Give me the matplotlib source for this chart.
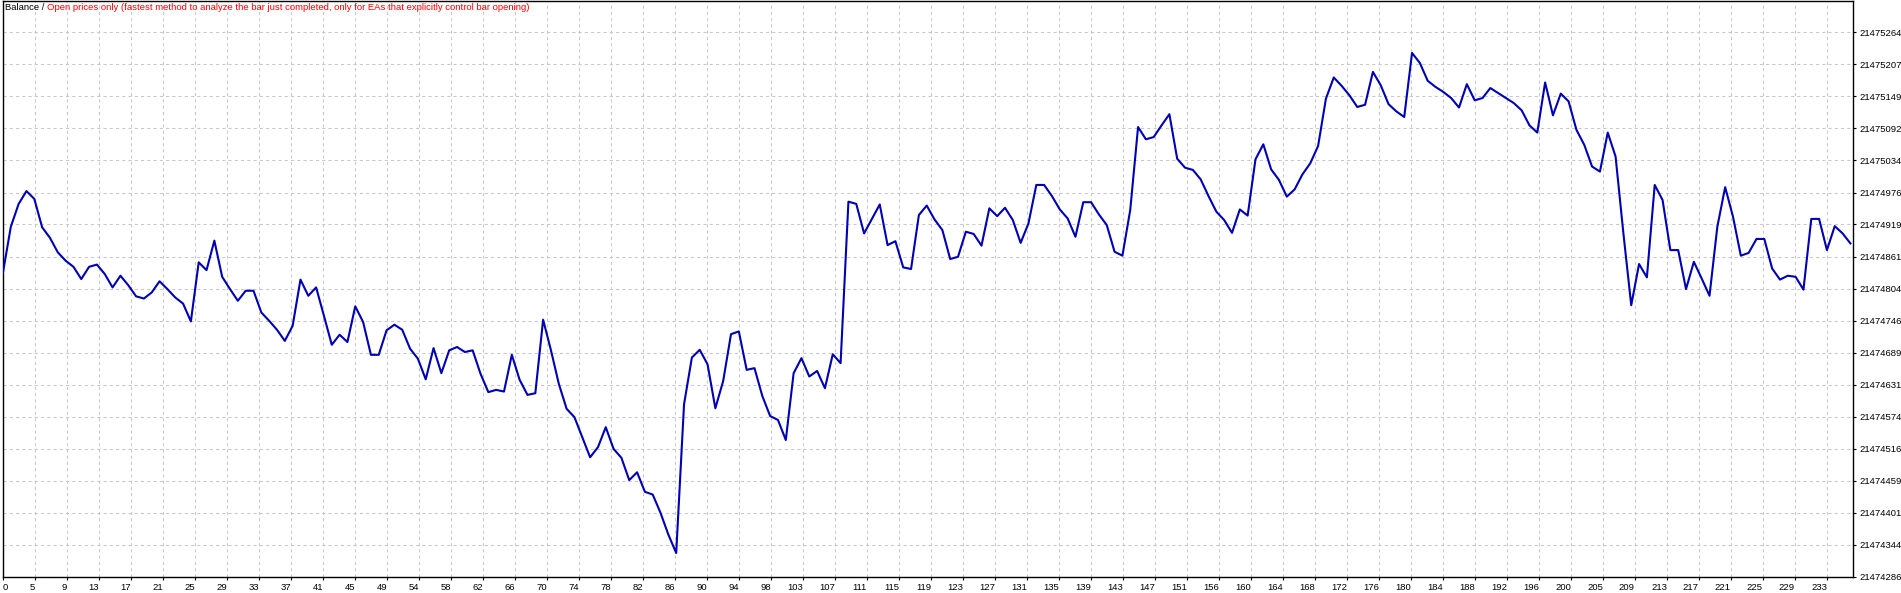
import matplotlib
matplotlib.use("Agg")
import matplotlib.pyplot as plt
import numpy as np

balance = [
    21474833, 21474915, 21474956, 21474979, 21474965, 21474914, 21474895, 21474869, 21474854, 21474843,
    21474821, 21474843, 21474847, 21474830, 21474806, 21474827, 21474810, 21474790, 21474786, 21474797,
    21474817, 21474803, 21474788, 21474777, 21474745, 21474851, 21474837, 21474890, 21474825, 21474803,
    21474782, 21474800, 21474800, 21474761, 21474746, 21474730, 21474710, 21474737, 21474820, 21474791,
    21474806, 21474755, 21474703, 21474721, 21474708, 21474772, 21474744, 21474685, 21474685, 21474729,
    21474739, 21474730, 21474696, 21474678, 21474641, 21474697, 21474652, 21474693, 21474699, 21474690,
    21474693, 21474651, 21474618, 21474622, 21474619, 21474685, 21474640, 21474613, 21474616, 21474748,
    21474693, 21474633, 21474588, 21474573, 21474537, 21474501, 21474519, 21474555, 21474516, 21474500,
    21474460, 21474474, 21474439, 21474434, 21474401, 21474362, 21474329, 21474596, 21474680, 21474694,
    21474668, 21474589, 21474638, 21474722, 21474727, 21474658, 21474661, 21474611, 21474575, 21474568,
    21474532, 21474652, 21474679, 21474646, 21474656, 21474625, 21474686, 21474670, 21474960, 21474956,
    21474903, 21474929, 21474955, 21474882, 21474889, 21474842, 21474839, 21474936, 21474953, 21474928,
    21474909, 21474857, 21474861, 21474906, 21474902, 21474881, 21474948, 21474934, 21474949, 21474927,
    21474886, 21474921, 21474990, 21474990, 21474970, 21474946, 21474930, 21474897, 21474959, 21474959,
    21474937, 21474918, 21474870, 21474863, 21474945, 21475094, 21475072, 21475076, 21475097, 21475117,
    21475037, 21475021, 21475017, 21475000, 21474970, 21474942, 21474927, 21474904, 21474946, 21474935,
    21475036, 21475063, 21475018, 21474999, 21474969, 21474982, 21475009, 21475029, 21475060, 21475145,
    21475183, 21475168, 21475151, 21475130, 21475134, 21475193, 21475169, 21475135, 21475122, 21475112,
    21475227, 21475209, 21475177, 21475166, 21475157, 21475146, 21475129, 21475171, 21475142, 21475146,
    21475164, 21475155, 21475146, 21475137, 21475124, 21475097, 21475084, 21475174, 21475115, 21475154,
    21475140, 21475089, 21475062, 21475023, 21475014, 21475084, 21475041, 21474903, 21474774, 21474848,
    21474824, 21474990, 21474963, 21474873, 21474873, 21474803, 21474852, 21474822, 21474791, 21474915,
    21474986, 21474933, 21474863, 21474868, 21474893, 21474893, 21474840, 21474820, 21474827, 21474825,
    21474802, 21474929, 21474929, 21474873, 21474916, 21474903, 21474885,
]

x_labels = [0, 5, 9, 13, 17, 21, 25, 29, 33, 37, 41, 45, 49, 54, 58, 62, 66, 70, 74, 78,
            82, 86, 90, 94, 98, 103, 107, 111, 115, 119, 123, 127, 131, 135, 139, 143, 147, 151, 156, 160,
            164, 168, 172, 176, 180, 184, 188, 192, 196, 200, 205, 209, 213, 217, 221, 225, 229, 233]

y_labels = [21474286, 21474344, 21474401, 21474459, 21474516, 21474574, 21474631, 21474689, 21474746,
            21474804, 21474861, 21474919, 21474976, 21475034, 21475092, 21475149, 21475207, 21475264]

title_left = "Balance / "
title_right = ("Open prices only (fastest method to analyze the bar just completed, "
               "only for EAs that explicitly control bar opening)")

FONT = "Liberation Sans"
FS = 6.8

W, H = 1901, 593
fig = plt.figure(figsize=(W / 100, H / 100), dpi=100)
fig.patch.set_facecolor("white")
ax = fig.add_axes([2.5 / W, 16 / H, 1850.5 / W, 576.5 / H])

idx = np.arange(len(balance))
ax.plot(idx, balance, color="#0000b4", lw=1.5, zorder=3)

ax.set_xlim(-0.064, 236.33)
ax.set_ylim(21474286, 21475321.2)

step = x_labels[-1] / (len(x_labels) - 1)
xpos = np.arange(len(x_labels)) * step
ax.set_xticks(xpos)
ax.set_xticklabels([str(v) for v in x_labels], fontsize=FS, family=FONT)
for i, lab in enumerate(ax.get_xticklabels()):
    lab.set_ha("left" if i == 0 else "right")

ax.yaxis.tick_right()
ax.set_yticks(y_labels)
ax.set_yticklabels([str(v) for v in y_labels], fontsize=FS, family=FONT)

ax.tick_params(axis="x", direction="out", length=2.5, width=0.8, pad=1.5, colors="black")
ax.tick_params(axis="y", direction="out", length=2.5, width=0.8, pad=2.5, colors="black")

ax.grid(True, color="#c8c8c8", linestyle=(0, (3, 3)), linewidth=0.75, zorder=0)
ax.set_axisbelow(True)
for s in ax.spines.values():
    s.set_color("black")
    s.set_linewidth(1.0)

t1 = fig.text(5 / W, 1 - 8 / H, title_left, color="black", fontsize=FS, family=FONT,
              va="center", ha="left")
ax.annotate(title_right, xy=(1, 0.5), xycoords=t1, va="center", ha="left",
            color="#ff0000", fontsize=FS, family=FONT, annotation_clip=False)

fig.savefig("out.png", dpi=100, facecolor="white")
